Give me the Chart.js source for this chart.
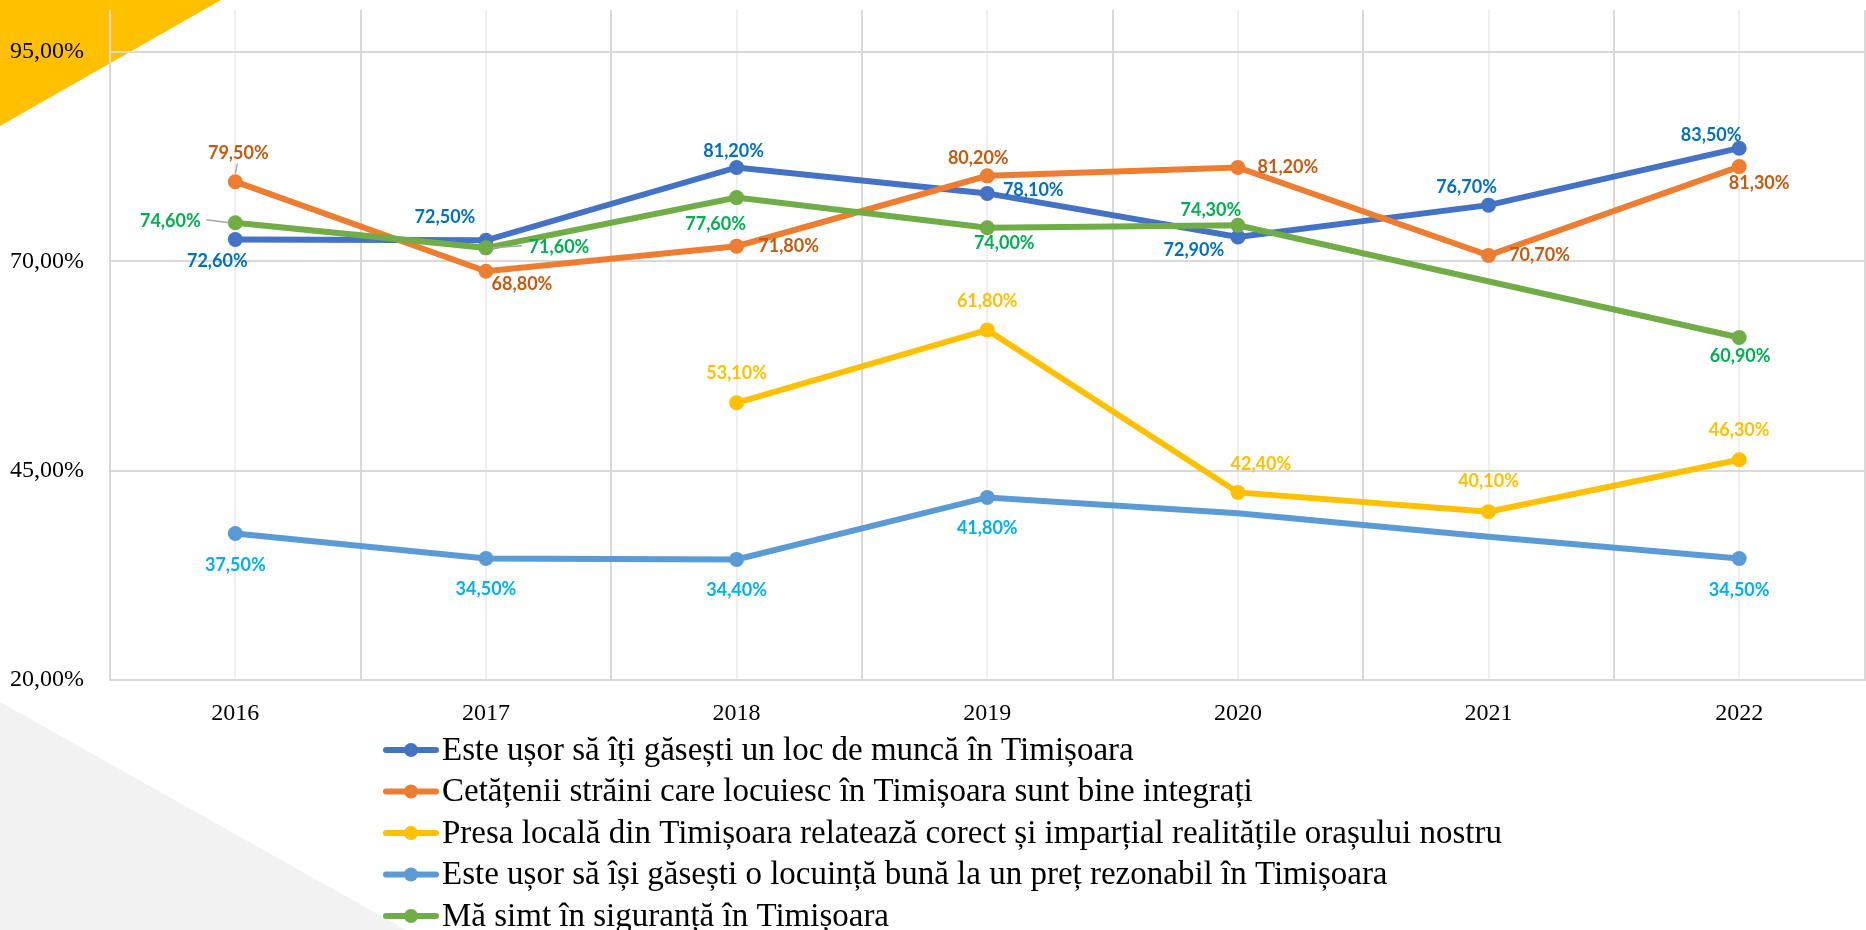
<!DOCTYPE html>
<html>
<head>
<meta charset="utf-8">
<script src="https://cdn.jsdelivr.net/npm/chart.js@4"></script>
<style>
  html, body { margin: 0; padding: 0; background: #fff; overflow: hidden; }
  #wrap { width: 1866px; height: 930px; overflow: hidden; }
</style>
</head>
<body>
<div id="wrap"><canvas id="chart" width="1872" height="930"></canvas></div>
<script>
// Date
const years = ['2016', '2017', '2018', '2019', '2020', '2021', '2022'];
const locMunca = [72.6, 72.5, 81.2, 78.1, 72.9, 76.7, 83.5];
const straini = [79.5, 68.8, 71.8, 80.2, 81.2, 70.7, 81.3];
const presa = [null, null, 53.1, 61.8, 42.4, 40.1, 46.3];
const locuinta = [37.5, 34.5, 34.4, 41.8, 39.9, 37.1, 34.5];
const siguranta = [74.6, 71.6, 77.6, 74.0, 74.3, null, 60.9];
const yTicks = [20, 45, 70, 95];
const seriesNames = [
  'Este ușor să îți găsești un loc de muncă în Timișoara',
  'Cetățenii străini care locuiesc în Timișoara sunt bine integrați',
  'Presa locală din Timișoara relatează corect și imparțial realitățile orașului nostru',
  'Este ușor să își găsești o locuință bună la un preț rezonabil în Timișoara',
  'Mă simt în siguranță în Timișoara'
];

// culori (linie / eticheta)
const lineColors = ['#4472C4', '#ED7D31', '#FFC000', '#5B9BD5', '#70AD47'];
const labelColors = ['#0070C0', '#C55A11', '#FFC000', '#00B0F0', '#00B050'];

// pozitia etichetelor fata de punct (px)
const labelOffsets = [
  [[-18, 22], [-41, -23], [-3, -16], [46, -3], [-44, 13], [-22, -18], [-28, -13]],
  [[3, -29], [36, 13], [52, 0], [-9, -18], [50, 0], [51, 0], [20, 17]],
  [null, null, [0, -30], [0, -29], [23, -28], [0, -30], [0, -30]],
  [[0, 32], [0, 31], [0, 31], [0, 31], null, null, [0, 32]],
  [[-65, -2], [73, -1], [-21, 27], [17, 15], [-27, -15], null, [1, 19]]
];
// linii de legatura: [serie, punct, x1, y1, x2, y2] relativ la punct
const leaders = [
  [1, 0, 2, -18, 0, -8],
  [4, 0, -29, -3, -6, 0],
  [4, 1, 7, 0, 36, -2]
];

const fmt = v => v.toFixed(2).replace('.', ',') + '%';

const backgroundShapes = {
  id: 'backgroundShapes',
  beforeDraw(chart) {
    const ctx = chart.ctx;
    ctx.save();
    ctx.fillStyle = '#ffffff';
    ctx.fillRect(0, 0, chart.width, chart.height);
    ctx.fillStyle = '#FFC000';
    ctx.beginPath();
    ctx.moveTo(0, 0); ctx.lineTo(221, 0); ctx.lineTo(0, 126); ctx.closePath();
    ctx.fill();
    ctx.fillStyle = '#F2F2F2';
    ctx.beginPath();
    ctx.moveTo(0, 702); ctx.lineTo(406, 930); ctx.lineTo(0, 930); ctx.closePath();
    ctx.fill();
    ctx.restore();
  }
};

const dataLabels = {
  id: 'dataLabels',
  afterDatasetsDraw(chart) {
    const ctx = chart.ctx;
    ctx.save();
    ctx.strokeStyle = '#A6A6A6';
    ctx.lineWidth = 1.5;
    leaders.forEach(([ds, i, x1, y1, x2, y2]) => {
      const pt = chart.getDatasetMeta(ds).data[i];
      ctx.beginPath();
      ctx.moveTo(pt.x + x1, pt.y + y1);
      ctx.lineTo(pt.x + x2, pt.y + y2);
      ctx.stroke();
    });
    ctx.font = 'bold 18px Lato';
    ctx.textAlign = 'center';
    ctx.textBaseline = 'middle';
    chart.data.datasets.forEach((dataset, ds) => {
      const meta = chart.getDatasetMeta(ds);
      dataset.data.forEach((v, i) => {
        const off = labelOffsets[ds][i];
        if (v === null || !off) return;
        const pt = meta.data[i];
        ctx.fillStyle = labelColors[ds];
        ctx.fillText(fmt(v), pt.x + off[0], pt.y + off[1]);
      });
    });
    ctx.restore();
  }
};

const customLegend = {
  id: 'customLegend',
  afterDraw(chart) {
    const ctx = chart.ctx;
    ctx.save();
    ctx.font = '33px "Liberation Serif"';
    ctx.textBaseline = 'middle';
    ctx.textAlign = 'left';
    chart.data.datasets.forEach((dataset, i) => {
      const y = 750 + i * 41.5;
      ctx.strokeStyle = dataset.borderColor;
      ctx.lineWidth = 6;
      ctx.lineCap = 'round';
      ctx.beginPath();
      ctx.moveTo(386, y); ctx.lineTo(436, y);
      ctx.stroke();
      ctx.fillStyle = dataset.borderColor;
      ctx.beginPath();
      ctx.arc(411, y, 7, 0, Math.PI * 2);
      ctx.fill();
      ctx.fillStyle = '#000000';
      ctx.fillText(dataset.label, 442, y + 1);
    });
    ctx.restore();
  }
};

const seriesData = [locMunca, straini, presa, locuinta, siguranta];
const datasets = seriesData.map((d, i) => ({
  label: seriesNames[i],
  data: d,
  borderColor: lineColors[i],
  backgroundColor: lineColors[i],
  borderWidth: 6,
  pointRadius: d.map((v, j) => (labelOffsets[i][j] ? 7.5 : 0)),
  pointHoverRadius: 7.5,
  pointBorderWidth: 0,
  spanGaps: true,
  tension: 0,
  order: 5 - i
}));

new Chart(document.getElementById('chart'), {
  type: 'line',
  data: { labels: years, datasets },
  options: {
    responsive: false,
    animation: false,
    devicePixelRatio: 1,
    layout: { padding: { left: 0, top: 10, right: 0, bottom: 200 } },
    plugins: {
      legend: { display: false },
      tooltip: { enabled: false }
    },
    scales: {
      x: {
        offset: true,
        grid: { offset: true, color: '#D9D9D9', lineWidth: 2, drawTicks: false },
        border: { display: true, color: '#D9D9D9', width: 2 },
        ticks: { color: '#000', font: { family: 'Liberation Serif', size: 24 }, padding: 19 },
        afterFit(scale) { scale.height = 50; scale.paddingLeft = 0; scale.paddingRight = 0; }
      },
      x2: {
        type: 'category',
        position: 'bottom',
        offset: true,
        grid: { offset: false, color: '#EFEFEF', lineWidth: 2, drawTicks: false },
        border: { display: false },
        ticks: { display: false },
        afterFit(scale) { scale.height = 0; scale.paddingLeft = 0; scale.paddingRight = 0; }
      },
      y: {
        min: 20,
        max: 100,
        grid: { color: '#D9D9D9', lineWidth: 2, drawTicks: false },
        border: { display: false },
        afterBuildTicks(scale) { scale.ticks = yTicks.map(v => ({ value: v })); },
        ticks: {
          color: '#000',
          font: { family: 'Liberation Serif', size: 24 },
          padding: 26,
          callback: v => fmt(v)
        },
        afterFit(scale) { scale.width = 110; scale.paddingTop = 0; scale.paddingBottom = 0; }
      }
    }
  },
  plugins: [backgroundShapes, dataLabels, customLegend]
});
</script>
</body>
</html>
